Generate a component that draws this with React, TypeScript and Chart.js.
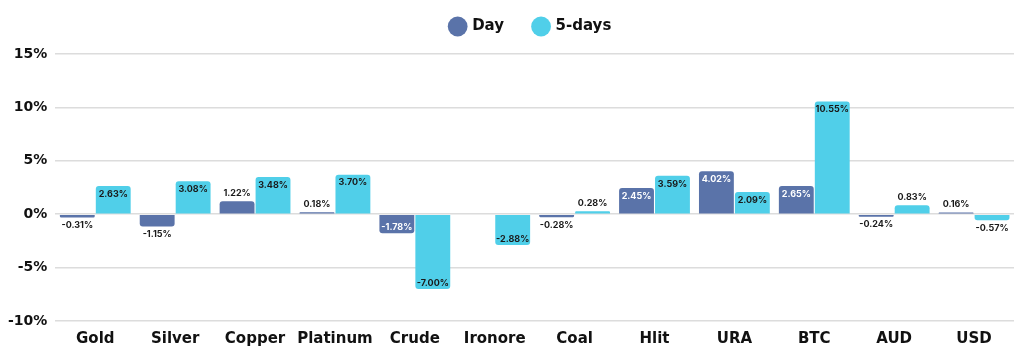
import React, { useEffect, useRef } from "react";
import { Chart, registerables } from "chart.js";

Chart.register(...registerables);

const categories = ["Gold", "Silver", "Copper", "Platinum", "Crude", "Ironore", "Coal", "Hlit", "URA", "BTC", "AUD", "USD"];
const dayValues = [-0.31, -1.15, 1.22, 0.18, -1.78, 0, -0.28, 2.45, 4.02, 2.65, -0.24, 0.16];
const fiveDayValues = [2.63, 3.08, 3.48, 3.7, -7.0, -2.88, 0.28, 3.59, 2.09, 10.55, 0.83, -0.57];
const yTicks = [-10, -5, 0, 5, 10, 15];

const FONT = "Inter, 'Open Sans', sans-serif";
const WIDE_FONT = "'DejaVu Sans', Inter, sans-serif";
const DAY_COLOR = "#5A73A9";
const FIVE_COLOR = "#50CFE9";

const valueLabels = {
  id: "valueLabels",
  afterDatasetsDraw(chart: any) {
    const ctx = chart.ctx;
    ctx.save();
    ctx.font = `bold 9px ${FONT}`;
    ctx.textAlign = "center";
    ctx.textBaseline = "middle";
    chart.data.datasets.forEach((ds: any, di: number) => {
      const meta = chart.getDatasetMeta(di);
      meta.data.forEach((bar: any, i: number) => {
        const v = ds.data[i];
        if (v === null || v === undefined || (di === 0 && i === 5)) return;
        const len = Math.abs(bar.base - bar.y);
        const txt = v.toFixed(2) + "%";
        let y: number;
        let color = "#1a1a1a";
        if (len > 15) {
          y = v >= 0 ? bar.y + 8 : bar.y - 6;
          if (di === 0) color = "#ffffff";
        } else {
          y = v >= 0 ? bar.y - 8 : bar.y + 8;
        }
        ctx.fillStyle = color;
        ctx.fillText(txt, bar.x, y);
      });
    });
    ctx.restore();
  },
};

const legendSpacing = {
  id: "legendSpacing",
  beforeLayout(chart: any) {
    const legend = chart.legend;
    if (legend && !legend._spaced) {
      const orig = legend.fit.bind(legend);
      legend.fit = function () {
        orig();
        this.height += 10;
      };
      legend._spaced = true;
    }
  },
  afterLayout(chart: any) {
    const legend = chart.legend;
    if (legend) {
      legend.left += 24;
      legend.right += 24;
    }
  },
};

export default function App() {
  const ref = useRef<HTMLCanvasElement>(null);
  useEffect(() => {
    if (!ref.current) return;
    const chart = new Chart(ref.current, {
      type: "bar",
      data: {
        labels: categories,
        datasets: [
          { label: "Day", data: dayValues, backgroundColor: DAY_COLOR, borderRadius: 3, categoryPercentage: 0.9, barPercentage: 0.97 },
          { label: "5-days", data: fiveDayValues, backgroundColor: FIVE_COLOR, borderRadius: 3, categoryPercentage: 0.9, barPercentage: 0.97 },
        ],
      },
      options: {
        animation: false,
        responsive: false,
        maintainAspectRatio: false,
        layout: { padding: { left: 0, right: 10, top: -11, bottom: 12 } },
        plugins: {
          legend: {
            position: "top",
            labels: {
              usePointStyle: true,
              pointStyle: "circle",
              boxWidth: 14,
              boxHeight: 14,
              padding: 30,
              color: "#111",
              font: { family: WIDE_FONT, size: 15, weight: "bold" },
            },
          },
          tooltip: { enabled: false },
        },
        scales: {
          x: {
            grid: { display: false },
            border: { display: false },
            ticks: {
              color: "#111",
              font: { family: WIDE_FONT, size: 15, weight: "bold" },
              padding: 1,
              maxRotation: 0,
              minRotation: 0,
              autoSkip: false,
            },
          },
          y: {
            min: -10,
            max: 15,
            afterBuildTicks: (axis: any) => {
              axis.ticks = yTicks.map((v) => ({ value: v }));
            },
            grid: { color: "#dcdcdc", lineWidth: 1.5, drawTicks: false },
            border: { display: false },
            ticks: {
              color: "#111",
              padding: 8,
              font: { family: WIDE_FONT, size: 14, weight: "bold" },
              callback: (v: any) => v + "%",
            },
          },
        },
      },
      plugins: [legendSpacing, valueLabels],
    });
    return () => chart.destroy();
  }, []);
  return (
    <div style={{ position: "absolute", left: 0, top: 0, width: 1024, height: 361, background: "#fff" }}>
      <canvas ref={ref} width={1024} height={361} />
    </div>
  );
}
